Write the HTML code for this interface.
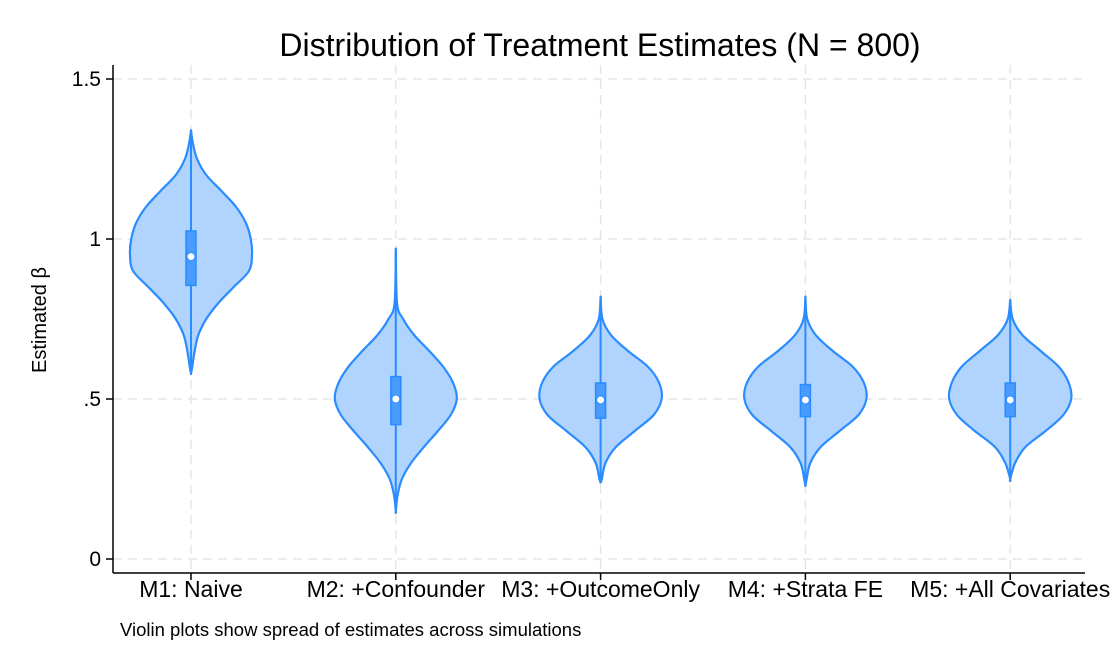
<!DOCTYPE html>
<html><head><meta charset="utf-8"><style>
body{margin:0;background:#fff;}
svg{display:block;font-family:"Liberation Sans",sans-serif;}
</style></head><body>
<svg id="chart" width="1110" height="666">
<text x="600" y="56" font-size="32" text-anchor="middle" fill="#000">Distribution of Treatment Estimates (N = 800)</text>
<text transform="translate(46,320) rotate(-90)" font-size="20" text-anchor="middle">Estimated β</text>
<text x="120" y="636" font-size="18.5">Violin plots show spread of estimates across simulations</text>
<g id="grid"></g><g id="marks"></g><g id="axes"></g>
</svg>
<script>
const categories=["M1: Naive","M2: +Confounder","M3: +OutcomeOnly","M4: +Strata FE","M5: +All Covariates"];
const yTicks=[0,0.5,1,1.5];
const yTickLabels=["0",".5","1","1.5"];
const densityY=[
[1.34,1.30,1.25,1.20,1.15,1.10,1.05,1.00,0.95,0.90,0.85,0.80,0.75,0.70,0.65,0.60,0.58],
[0.97,0.80,0.75,0.70,0.65,0.60,0.55,0.50,0.45,0.40,0.35,0.30,0.25,0.20,0.15],
[0.82,0.75,0.70,0.65,0.60,0.55,0.50,0.45,0.40,0.35,0.30,0.25,0.24],
[0.82,0.75,0.70,0.65,0.60,0.55,0.50,0.45,0.40,0.35,0.30,0.25,0.23],
[0.81,0.75,0.70,0.65,0.60,0.55,0.50,0.45,0.40,0.35,0.30,0.25]];
const densityW=[
[0,0.03,0.1,0.25,0.5,0.74,0.9,0.98,1,0.95,0.7,0.45,0.25,0.12,0.06,0.02,0],
[0,0.02,0.12,0.3,0.55,0.78,0.94,1,0.9,0.69,0.46,0.25,0.1,0.03,0],
[0,0.03,0.17,0.45,0.78,0.96,1,0.87,0.56,0.25,0.08,0.02,0],
[0,0.03,0.17,0.45,0.78,0.96,1,0.87,0.56,0.25,0.08,0.02,0],
[0,0.04,0.2,0.5,0.8,0.96,1,0.87,0.58,0.25,0.08,0]];
const q1=[0.855,0.42,0.44,0.445,0.445];
const medians=[0.945,0.50,0.497,0.497,0.497];
const q3=[1.025,0.57,0.55,0.545,0.55];
const maxHalf=61;
const NS="http://www.w3.org/2000/svg";
const yS=v=>559-v*320;
const xS=i=>191+i*204.8;
function mk(t,a,p){const e=document.createElementNS(NS,t);for(const k in a)e.setAttribute(k,a[k]);(p||document.getElementById('marks')).appendChild(e);return e;}
const grid=document.getElementById('grid'),axes=document.getElementById('axes');
yTicks.forEach((t,i)=>{
 const g=mk('line',{x1:113,x2:1085,y1:yS(t),y2:yS(t),stroke:'#e6e6e6','stroke-width':1.5,'stroke-dasharray':'9,6'},grid);
 
 const tk=mk('line',{x1:106,x2:113,y1:yS(t),y2:yS(t),stroke:'#000','stroke-width':1.5},axes);
 
 const l=mk('text',{x:101,y:yS(t)+7,'font-size':21,'text-anchor':'end'},axes);l.textContent=yTickLabels[i];
 
});
categories.forEach((c,i)=>{
 const g=mk('line',{x1:xS(i),x2:xS(i),y1:65,y2:573,stroke:'#e6e6e6','stroke-width':1.5,'stroke-dasharray':'9,6'},grid);
 
 const tk=mk('line',{x1:xS(i),x2:xS(i),y1:573,y2:580,stroke:'#000','stroke-width':1.5},axes);
 
 const l=mk('text',{x:xS(i),y:597,'font-size':23,'text-anchor':'middle'},axes);l.textContent=c;
 
 const ys=densityY[i],ws=densityW[i],cx=xS(i);
 let pts=[];
 ys.forEach((v,j)=>pts.push([cx+ws[j]*maxHalf,yS(v)]));
 for(let j=ys.length-1;j>=0;j--)pts.push([cx-ws[j]*maxHalf,yS(ys[j])]);
 let d='M'+pts[0].join(',');
 for(let j=0;j<pts.length-1;j++){const p0=pts[Math.max(j-1,0)],p1=pts[j],p2=pts[j+1],p3=pts[Math.min(j+2,pts.length-1)];
  d+=` C${p1[0]+(p2[0]-p0[0])/6},${p1[1]+(p2[1]-p0[1])/6} ${p2[0]-(p3[0]-p1[0])/6},${p2[1]-(p3[1]-p1[1])/6} ${p2[0]},${p2[1]}`;}
 d+='Z';
 const v=mk('path',{d:d,fill:'#b0d4fd',stroke:'#2a8cff','stroke-width':2.2,'stroke-linejoin':'round'});
 
 const w=mk('line',{x1:cx,x2:cx,y1:yS(ys[0]),y2:yS(ys[ys.length-1]),stroke:'#2a8cff','stroke-width':2});
 
 const b=mk('rect',{x:cx-5,y:yS(q3[i]),width:10,height:yS(q1[i])-yS(q3[i]),fill:'#4a9bff',stroke:'#2a8cff','stroke-width':1.5});
 
 const m=mk('circle',{cx:cx,cy:yS(medians[i]),r:4,fill:'#fff',stroke:'#2a8cff','stroke-width':1});
 
});
const ya=mk('line',{x1:113,x2:113,y1:65,y2:573,stroke:'#000','stroke-width':1.5},axes);

const xa=mk('line',{x1:113,x2:1085,y1:573,y2:573,stroke:'#000','stroke-width':1.5},axes);

</script>
</body></html>
